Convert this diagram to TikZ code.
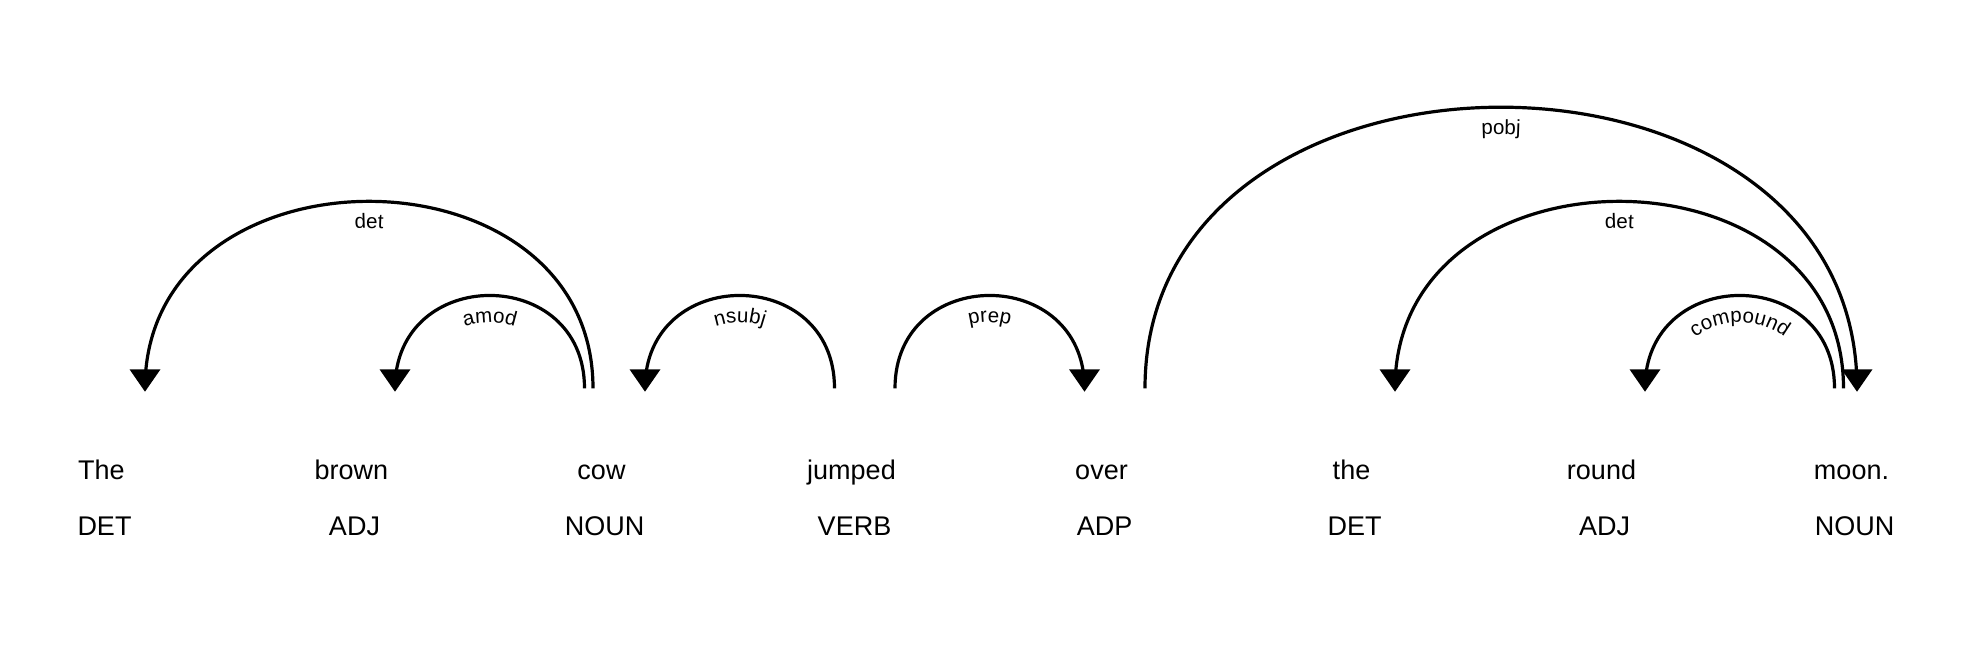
\documentclass[tikz,border=0pt]{standalone}
\usepackage{fontspec}
\setmainfont{Liberation Sans}
\newfontfamily\lfontfam[LetterSpace=6]{Liberation Sans}
\usetikzlibrary{decorations.text,calc}
\newcommand\wfont{\fontsize{27bp}{32bp}\selectfont}
\newcommand\lfont{\lfontfam\fontsize{20.5bp}{24bp}\selectfont}
\newcommand\deparc[4]{%
  \draw[arcline] (#1) .. controls ($(#1)+(0,-#3)$) and ($(#2)+(0,-#3)$) .. (#2);
  \begingroup\lfont
  \path[decorate,decoration={text along path,text align=center,text={#4}}]
    ($(#1)+(27,0)$) .. controls ($(#1)+(27,-#3+36)$) and ($(#2)+(-27,-#3+36)$) .. ($(#2)+(-27,0)$);
  \endgroup}
\newcommand\dephead[1]{\fill ($(#1)+(0,3.4)$) -- ++(-15.5,-22.4) -- ++(31,0) -- cycle;}
\begin{document}
\begin{tikzpicture}[x=1bp,y=-1bp,
  word/.style={anchor=base,inner sep=0pt,font=\wfont},
  arcline/.style={line width=3.2bp,line cap=butt},
]
\useasboundingbox (0,0) rectangle (1982,658);
% words
\node[word] (w0) at (101.5,479.3) {The};
\node[word] (w1) at (351.5,479.3) {brown};
\node[word] (w2) at (601.5,479.3) {cow};
\node[word] (w3) at (851.5,479.3) {jumped};
\node[word] (w4) at (1101.5,479.3) {over};
\node[word] (w5) at (1351.5,479.3) {the};
\node[word] (w6) at (1601.5,479.3) {round};
\node[word] (w7) at (1851.5,479.3) {moon.};
% tags
\node[word] (t0) at (104.5,535) {DET};
\node[word] (t1) at (354.5,535) {ADJ};
\node[word] (t2) at (604.5,535) {NOUN};
\node[word] (t3) at (854.5,535) {VERB};
\node[word] (t4) at (1104.5,535) {ADP};
\node[word] (t5) at (1354.5,535) {DET};
\node[word] (t6) at (1604.5,535) {ADJ};
\node[word] (t7) at (1854.5,535) {NOUN};
% arc end points
\coordinate (detAL) at (145,388.3);   \coordinate (detAR) at (593,388.3);
\coordinate (amodL) at (395,388.3);   \coordinate (amodR) at (584.5,388.3);
\coordinate (nsubjL) at (645,388.3);  \coordinate (nsubjR) at (834.5,388.3);
\coordinate (prepL) at (895,388.3);   \coordinate (prepR) at (1084.5,388.3);
\coordinate (pobjL) at (1145,388.3);  \coordinate (pobjR) at (1857,388.3);
\coordinate (detBL) at (1395,388.3);  \coordinate (detBR) at (1843.5,388.3);
\coordinate (compL) at (1645,388.3);  \coordinate (compR) at (1834.5,388.3);
% arcs
\deparc{detAL}{detAR}{249.3}{det}
\dephead{detAL}
\deparc{amodL}{amodR}{123.8}{amod}
\dephead{amodL}
\deparc{nsubjL}{nsubjR}{123.8}{nsubj}
\dephead{nsubjL}
\deparc{prepL}{prepR}{123.8}{prep}
\dephead{prepR}
\deparc{pobjL}{pobjR}{374.8}{pobj}
\dephead{pobjR}
\deparc{detBL}{detBR}{249.3}{det}
\dephead{detBL}
\deparc{compL}{compR}{123.8}{compound}
\dephead{compL}
\end{tikzpicture}
\end{document}
